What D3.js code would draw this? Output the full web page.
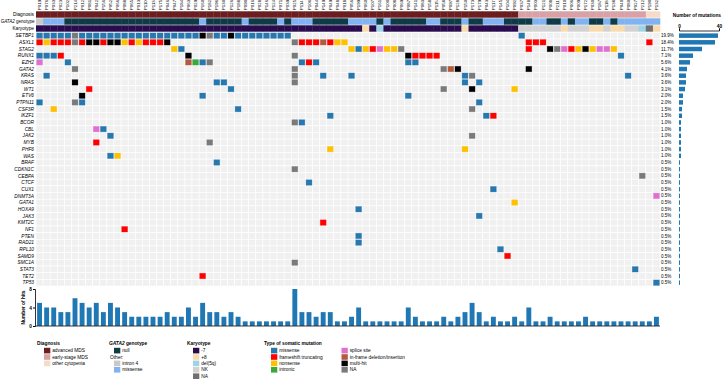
<!DOCTYPE html>
<html>
<head>
<meta charset="utf-8">
<script src="https://d3js.org/d3.v7.min.js"></script>
<style>
  body { margin: 0; background: #fff; }
  text { font-family: Arial, "Liberation Sans", sans-serif; }
</style>
</head>
<body>
<svg id="chart" width="724" height="380"></svg>
<script>
// ---- data ----
var patients = ["P019","P076","P033","P023","P102","P214","P012","P081","P042","P156","P052","P066","P088","P065","P013","P110","P113","P175","P046","P047","P184","P063","P029","P160","P182","P196","P130","P126","P188","P090","P016","P028","P146","P124","P071","P039",
  "P025","P114","P106","P044","P149","P049","P048","P018","P056","P199","P060","P107","P161","P100","P008","P069","P087","P141","P083","P158","P115","P058","P097","P128","P150","P173","P179","P043","P117","P145","P104","P092",
  "P037","P148","P003","P121","P008","P211","P010","P006","P009","P172","P030","P187","P118","P138","P040","P080","P027","P212","P190","P132"];

var diagnosis = [];
["A",68,"E",18,"O",2].forEach(function(d,i,a){ if(i%2==0) for(var k=0;k<a[i+1];k++) diagnosis.push(d); });

var genotype = ["I","M","M","M","N","N","N","N","N","N","N","N","N","N","N","N","N","N","N","N","N","N","N","M","N","N","N","N","N","M",
  "N","N","N","N","M","N","M","M","M","N","N","N","N","N","M","M","M","M","N","M","N","N","N","N","N","M","M","N","N","N",
  "M","N","N","M","M","M","N","N","N","N","M","M","N","N","M","N","M","M","N","N","M","N","M","M","M","M","M","M"];

var karyotype = ["-7","-7","-7","-7","-7","-7","-7","-7","-7","-7","-7","-7","-7","-7","-7","-7","-7","-7","-7","-7","-7","-7","-7","-7","-7","-7","-7","-7","-7","-7",
  "-7","-7","-7","-7","-7","-7","-7","-7","-7","-7","-7","-7","-7","-7","-7","-7","+8","-7","del5q","-7","-7","-7","-7","-7","-7","-7","-7","-7","-7","-7",
  "+8","-7","-7","-7","-7","-7","-7","-7","NK","NK","NK","NK","NK","NK","+8","NK","NK","NK","+8","+8","NK","+8","+8","NK","NK","del5q","NA","+8"];

var genes = ["SETBP1","ASXL1","STAG2","RUNX1","EZH2","GATA2","KRAS","NRAS","WT1","ETV6","PTPN11","CSF3R","IKZF1","BCOR","CBL","JAK2","MYB","PHF6","WAS","BRAF",
  "CDKN1C","CEBPA","CTCF","CUX1","DNMT3A","GATA1","HOXA9","JAK3","KMT2C","NF1","PTEN","RAD21","RPL10","SAMD9","SMC1A","STAT3","TET2","TP53"];

var pctLabels = ["19.9%","18.4%","11.7%","7.1%","5.6%","4.1%","3.6%","3.6%","3.1%","2.0%","2.0%","1.5%","1.5%","1.0%","1.0%","1.0%","1.0%","1.0%","1.0%","0.5%",
  "0.5%","0.5%","0.5%","0.5%","0.5%","0.5%","0.5%","0.5%","0.5%","0.5%","0.5%","0.5%","0.5%","0.5%","0.5%","0.5%","0.5%","0.5%"];

var geneHits = [39,36,23,14,11,8,7,7,6,4,4,3,3,2,2,2,2,2,2,1,1,1,1,1,1,1,1,1,1,1,1,1,1,1,1,1,1,1];

var patientHits = [5,4,4,3,3,6,5,4,5,3,5,4,3,2,2,2,2,2,3,2,2,4,2,5,3,3,2,3,2,1,
  1,1,1,1,1,1,8,3,3,2,3,3,1,1,2,4,1,1,1,1,1,1,4,2,1,1,1,2,1,2,3,5,3,1,
  2,1,1,2,1,4,1,1,2,1,1,1,1,2,1,1,1,1,1,1,1,1,1,2];

// [gene, column, type]
var mutations = [
  ["SETBP1",0,"mis"],["SETBP1",1,"mis"],["SETBP1",2,"mis"],["SETBP1",3,"mis"],["SETBP1",4,"mis"],["SETBP1",5,"na"],["SETBP1",6,"mis"],["SETBP1",7,"mis"],
  ["SETBP1",8,"mis"],["SETBP1",9,"mis"],["SETBP1",10,"mis"],["SETBP1",11,"mis"],["SETBP1",12,"mis"],["SETBP1",13,"mis"],["SETBP1",14,"mis"],["SETBP1",15,"mis"],
  ["SETBP1",16,"mis"],["SETBP1",17,"mis"],["SETBP1",18,"mis"],["SETBP1",19,"mis"],["SETBP1",20,"mis"],["SETBP1",21,"mis"],["SETBP1",22,"mis"],["SETBP1",23,"multi"],
  ["SETBP1",24,"na"],["SETBP1",25,"mis"],["SETBP1",26,"mis"],["SETBP1",27,"multi"],["SETBP1",28,"mis"],["SETBP1",29,"mis"],["SETBP1",30,"mis"],["SETBP1",31,"mis"],
  ["SETBP1",32,"mis"],["SETBP1",33,"mis"],["SETBP1",34,"mis"],["SETBP1",35,"mis"],["SETBP1",68,"mis"],
  ["ASXL1",0,"fs"],["ASXL1",1,"non"],["ASXL1",2,"fs"],["ASXL1",3,"fs"],["ASXL1",4,"fs"],["ASXL1",5,"na"],["ASXL1",6,"fs"],["ASXL1",7,"multi"],["ASXL1",8,"multi"],
  ["ASXL1",9,"fs"],["ASXL1",10,"multi"],["ASXL1",11,"multi"],["ASXL1",12,"non"],["ASXL1",13,"fs"],["ASXL1",14,"non"],["ASXL1",15,"fs"],["ASXL1",16,"fs"],["ASXL1",17,"fs"],
  ["ASXL1",18,"multi"],["ASXL1",36,"na"],["ASXL1",37,"fs"],["ASXL1",38,"fs"],["ASXL1",39,"fs"],["ASXL1",40,"ind"],["ASXL1",41,"fs"],["ASXL1",42,"non"],["ASXL1",43,"non"],
  ["ASXL1",69,"fs"],["ASXL1",70,"fs"],["ASXL1",71,"fs"],["ASXL1",86,"fs"],
  ["STAG2",19,"non"],["STAG2",20,"mis"],["STAG2",44,"non"],["STAG2",45,"mis"],["STAG2",46,"non"],["STAG2",47,"fs"],["STAG2",48,"spl"],["STAG2",49,"non"],["STAG2",50,"non"],
  ["STAG2",51,"na"],["STAG2",69,"fs"],["STAG2",72,"multi"],["STAG2",73,"na"],["STAG2",74,"spl"],["STAG2",75,"fs"],["STAG2",76,"non"],["STAG2",77,"multi"],["STAG2",78,"non"],
  ["STAG2",79,"spl"],["STAG2",80,"spl"],["STAG2",81,"non"],
  ["RUNX1",0,"mis"],["RUNX1",1,"mis"],["RUNX1",2,"mis"],["RUNX1",3,"fs"],["RUNX1",21,"multi"],["RUNX1",36,"na"],["RUNX1",52,"multi"],["RUNX1",53,"fs"],["RUNX1",54,"fs"],
  ["RUNX1",55,"fs"],["RUNX1",56,"fs"],["RUNX1",82,"mis"],
  ["EZH2",0,"spl"],["EZH2",4,"mis"],["EZH2",21,"ind"],["EZH2",22,"int"],["EZH2",23,"mis"],["EZH2",24,"na"],["EZH2",37,"mis"],["EZH2",38,"fs"],["EZH2",39,"mis"],
  ["EZH2",52,"mis"],["EZH2",53,"mis"],
  ["GATA2",5,"na"],["GATA2",36,"na"],["GATA2",57,"na"],["GATA2",58,"ind"],["GATA2",59,"multi"],["GATA2",69,"multi"],
  ["KRAS",1,"mis"],["KRAS",36,"na"],["KRAS",40,"mis"],["KRAS",44,"mis"],["KRAS",60,"mis"],["KRAS",61,"na"],["KRAS",83,"mis"],
  ["NRAS",5,"multi"],["NRAS",25,"mis"],["NRAS",26,"mis"],["NRAS",36,"na"],["NRAS",60,"mis"],["NRAS",62,"mis"],
  ["WT1",7,"fs"],["WT1",27,"mis"],["WT1",57,"na"],["WT1",61,"multi"],["WT1",67,"non"],
  ["ETV6",6,"multi"],["ETV6",23,"mis"],["ETV6",52,"mis"],
  ["PTPN11",0,"mis"],["PTPN11",5,"na"],["PTPN11",6,"mis"],["PTPN11",62,"mis"],
  ["CSF3R",2,"non"],["CSF3R",28,"mis"],["CSF3R",61,"na"],
  ["IKZF1",41,"mis"],["IKZF1",63,"mis"],["IKZF1",64,"fs"],
  ["BCOR",36,"na"],["BCOR",37,"mis"],
  ["CBL",8,"spl"],["CBL",9,"mis"],
  ["JAK2",10,"mis"],["JAK2",61,"na"],
  ["MYB",8,"fs"],["MYB",24,"na"],
  ["PHF6",41,"non"],["PHF6",60,"non"],
  ["WAS",10,"mis"],["WAS",11,"non"],
  ["BRAF",25,"mis"],["CDKN1C",36,"na"],["CEBPA",85,"na"],["CTCF",38,"mis"],["CUX1",64,"mis"],["DNMT3A",87,"spl"],
  ["GATA1",67,"non"],["HOXA9",45,"mis"],["JAK3",62,"mis"],["KMT2C",40,"fs"],["NF1",12,"fs"],["PTEN",45,"mis"],
  ["RAD21",45,"mis"],["RPL10",65,"mis"],["SAMD9",66,"fs"],["SMC1A",36,"na"],["STAT3",84,"mis"],["TET2",23,"fs"],["TP53",87,"mis"]
];

var diagColor = {A:"#6b1d1f", E:"#d8a1a6", O:"#f6dcc6"};
var genoColor = {N:"#0e3b45", I:"#c9c9c9", M:"#80b3ef"};
var karyoColor = {"-7":"#2a0b4e", "+8":"#f8dbad", "del5q":"#9fd3e8", "NK":"#d2d2d2", "NA":"#6f6f6f"};
var mutColor = {mis:"#2878b0", fs:"#ff0000", non:"#ffc000", int:"#3aa83a", spl:"#e070d0", ind:"#b35a3e", multi:"#000000", na:"#7a7a7a"};

var FS = 4.8;

// ---- layout ----
var svg = d3.select("#chart");
var x = d3.scaleBand().domain(d3.range(patients.length)).range([36, 660]);
var y = d3.scaleBand().domain(genes).range([32.3, 286]);
var yh = d3.scaleBand().domain(["Diagnosis","GATA2 genotype","Karyotype"]).range([11, 32]);

// patient ids on top
svg.append("g").selectAll("text").data(patients).enter().append("text")
    .attr("transform", (d,i) => "translate(" + (x(i) + x.bandwidth()/2 + 1.5) + ",10) rotate(-90)")
    .attr("font-size", 4.3).text(d => d);

// header tracks
var tracks = [["Diagnosis", diagnosis, diagColor], ["GATA2 genotype", genotype, genoColor], ["Karyotype", karyotype, karyoColor]];
tracks.forEach(function(t) {
  svg.append("g").selectAll("rect").data(t[1]).enter().append("rect")
      .attr("x", (d,i) => x(i)).attr("width", x.bandwidth() + 0.3)
      .attr("y", yh(t[0]) + 0.3).attr("height", yh.bandwidth() - 0.6)
      .attr("fill", d => t[2][d]);
});
var hl = svg.append("g").attr("font-size", FS).attr("text-anchor", "end");
hl.append("text").attr("x", 34).attr("y", yh("Diagnosis") + 5).text("Diagnosis");
var gt = hl.append("text").attr("x", 34.5).attr("y", yh("GATA2 genotype") + 5).attr("font-size", 4.5);
gt.append("tspan").attr("font-style", "italic").text("GATA2");
gt.append("tspan").text(" genotype");
hl.append("text").attr("x", 34).attr("y", yh("Karyotype") + 5).text("Karyotype");

// background grid
var cells = [];
genes.forEach(g => patients.forEach((p,i) => cells.push([g,i])));
svg.append("g").selectAll("rect").data(cells).enter().append("rect")
    .attr("x", d => x(d[1])).attr("y", d => y(d[0]))
    .attr("width", x.bandwidth()).attr("height", y.bandwidth())
    .attr("fill", "#f0f0f0").attr("stroke", "#fff").attr("stroke-width", 0.6);

// mutations
svg.append("g").selectAll("rect").data(mutations).enter().append("rect")
    .attr("x", d => x(d[1]) + 0.6).attr("y", d => y(d[0]) + 0.6)
    .attr("width", x.bandwidth() - 1.2).attr("height", y.bandwidth() - 1.2)
    .attr("fill", d => mutColor[d[2]])
    .attr("stroke", d => mutColor[d[2]]).attr("stroke-opacity", 0.35).attr("stroke-width", 0.8);

// gene labels
svg.append("g").selectAll("text").data(genes).enter().append("text")
    .attr("x", 34).attr("y", d => y(d) + y.bandwidth()/2 + 1.7)
    .attr("text-anchor", "end").attr("font-size", FS).attr("font-style", "italic")
    .text(d => d);

// percent labels
svg.append("g").selectAll("text").data(pctLabels).enter().append("text")
    .attr("x", 661).attr("y", (d,i) => y(genes[i]) + y.bandwidth()/2 + 1.6)
    .attr("font-size", 4.5).text(d => d);

// right bar chart: number of mutations
var xr = d3.scaleLinear().domain([0, 40]).range([679, 719]);
svg.append("g").selectAll("rect").data(geneHits).enter().append("rect")
    .attr("x", xr(0)).attr("y", (d,i) => y(genes[i]) + 1.1)
    .attr("width", d => xr(d) - xr(0)).attr("height", y.bandwidth() - 2.2)
    .attr("fill", "#1f77b4");
var xa = svg.append("g").attr("transform", "translate(0,30.5)")
    .call(d3.axisTop(xr).tickValues([0, 40]).tickSize(2).tickPadding(1));
xa.selectAll("text").attr("font-size", FS).attr("font-weight", "bold").style("font-family", "Arial");
xa.select(".domain").attr("stroke-width", 0.8);
svg.append("text").attr("x", 721).attr("y", 17).attr("text-anchor", "end")
    .attr("font-size", FS).attr("font-weight", "bold").text("Number of mutations");

// bottom bar chart: number of hits
var yb = d3.scaleLinear().domain([0, 8]).range([326, 289]);
svg.append("g").selectAll("rect").data(patientHits).enter().append("rect")
    .attr("x", (d,i) => x(i) + 1.1).attr("width", x.bandwidth() - 2.2)
    .attr("y", d => yb(d)).attr("height", d => yb(0) - yb(d))
    .attr("fill", "#1f77b4");
var ya = svg.append("g").attr("transform", "translate(35,0)")
    .call(d3.axisLeft(yb).tickValues([0, 4, 8]).tickSize(2).tickPadding(1));
ya.selectAll("text").attr("font-size", FS).attr("font-weight", "bold").style("font-family", "Arial");
ya.select(".domain").attr("stroke-width", 0.8);
svg.append("line").attr("x1", 35).attr("x2", 660).attr("y1", 326).attr("y2", 326)
    .attr("stroke", "#222").attr("stroke-width", 0.9);
svg.append("text").attr("transform", "translate(25,307.5) rotate(-90)")
    .attr("text-anchor", "middle").attr("font-size", FS).attr("font-weight", "bold").text("Number of hits");

// legends
var LY = 347.8, LP = 6.4;
function legend(x0, sx, title, items, italicFirst) {
  var g = svg.append("g").attr("font-size", FS);
  var t = g.append("text").attr("x", x0).attr("y", 345).attr("font-weight", "bold");
  if (italicFirst) { t.append("tspan").attr("font-style", "italic").text(italicFirst); t.append("tspan").text(title); }
  else t.text(title);
  items.forEach(function(it, i) {
    var yy = LY + i * LP;
    if (it[1]) g.append("rect").attr("x", sx).attr("y", yy).attr("width", 6.3).attr("height", 5.6).attr("fill", it[1]);
    g.append("text").attr("x", it[1] ? sx + 8.2 : x0 + 1).attr("y", yy + 4.4).text(it[0]);
  });
}
legend(37, 44, "Diagnosis", [["advanced MDS", diagColor.A], ["early-stage MDS", diagColor.E], ["other cytopenia", diagColor.O]]);
legend(109, 114, " genotype", [["null", genoColor.N], ["Other:", null], ["intron 4", genoColor.I], ["missense", genoColor.M]], "GATA2");
legend(187, 193, "Karyotype", [["-7", karyoColor["-7"]], ["+8", karyoColor["+8"]], ["del(5q)", karyoColor.del5q], ["NK", karyoColor.NK], ["NA", karyoColor.NA]]);
legend(264, 271, "Type of somatic mutation", [["missense", mutColor.mis], ["frameshift truncating", mutColor.fs], ["nonsense", mutColor.non], ["intronic", mutColor.int]]);
legend(341.5, 341.5, "", [["splice site", mutColor.spl], ["in-frame deletion/insertion", mutColor.ind], ["multi-hit", mutColor.multi], ["NA", mutColor.na]]);
</script>
</body>
</html>
